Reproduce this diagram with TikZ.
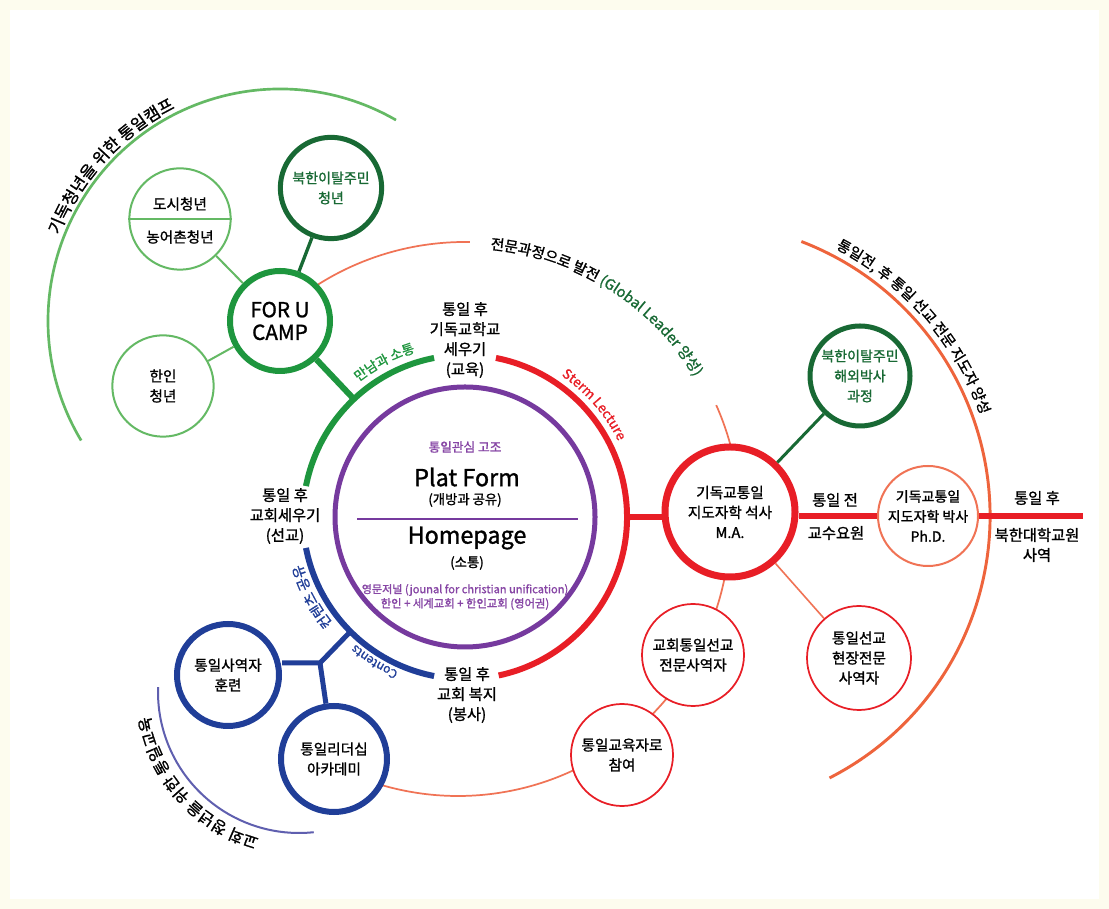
\documentclass[tikz,border=0pt]{standalone}
\usepackage{fontspec}
\setmainfont{Noto Sans CJK KR}[FakeBold=1.3]
\usetikzlibrary{calc,decorations.text}
\definecolor{gr}{RGB}{30,150,62}
\definecolor{dg}{RGB}{24,105,52}
\definecolor{lg}{RGB}{100,185,100}
\definecolor{pu}{RGB}{118,58,158}
\definecolor{ptx}{RGB}{135,70,165}
\definecolor{rd}{RGB}{232,30,38}
\definecolor{orl}{RGB}{240,115,85}
\definecolor{oro}{RGB}{238,100,60}
\definecolor{bl}{RGB}{32,62,152}
\definecolor{blt}{RGB}{95,95,175}
\definecolor{cream}{RGB}{253,252,238}
\begin{document}
\begin{tikzpicture}[x=0.75pt, y=0.75pt,
  circ/.style={circle, fill=white, inner sep=0pt, align=center, font=\fontsize{11}{15}\selectfont},
  lbl/.style={inner sep=0pt, align=center, font=\fontsize{11.5}{15}\selectfont},
  ringline/.style={line width=4.5pt},
  thinline/.style={line width=1.3pt}
]
% background
\fill[cream] (0,0) rectangle (1109,909);
\fill[white] (10,10) rectangle (1099,899);
\useasboundingbox (0,0) rectangle (1109,909);

\coordinate (C) at (465,392);
\coordinate (LC) at (458,385);
\coordinate (OC) at (696,393);
\coordinate (BC) at (299,217);
\coordinate (FC) at (280,588);

% big orange thin arcs (behind nodes)
\draw[orl, thinline] ($(C)+(133:275)$) arc[start angle=133, end angle=89, radius=275*0.75pt];
\draw[orl, thinline] ($(C)+(24:275)$) arc[start angle=24, end angle=12, radius=275*0.75pt];
\draw[orl, thinline] ($(LC)+(-8:272)$) arc[start angle=-8, end angle=-112, radius=272*0.75pt];
% outer arcs
\draw[lg, line width=2pt] ($(FC)+(60:232)$) arc[start angle=60, end angle=211, radius=232*0.75pt];
\draw[oro, line width=2.2pt] ($(OC)+(69:294)$) arc[start angle=69, end angle=-63, radius=294*0.75pt];
\draw[blt, line width=1.5pt] ($(BC)+(178:141)$) arc[start angle=178, end angle=276, radius=141*0.75pt];
% ring arcs
\draw[gr, ringline] ($(C)+(101:162)$) arc[start angle=101, end angle=169, radius=162*0.75pt];
\draw[bl, ringline] ($(C)+(191:162)$) arc[start angle=191, end angle=259, radius=162*0.75pt];
\draw[rd, ringline] ($(C)+(-78:162)$) arc[start angle=-78, end angle=79, radius=162*0.75pt];

% nodes
\node[circle, draw=pu, line width=3.75pt, minimum size=195pt, inner sep=0pt] (plat) at (C) {};
\node[circ, draw=gr, line width=4.5pt, minimum size=75pt, font=\fontsize{15.5}{17}\selectfont] (forU) at (FC) {FOR U\\CAMP};
\node[circ, draw=dg, line width=3.75pt, minimum size=76pt, text=dg, font=\fontsize{10.5}{15}\selectfont] (nky) at (331,721) {북한이탈주민\\청년};
\node[circ, draw=lg, line width=1.5pt, minimum size=76pt] (city) at (180,690) {};
\node[circ, draw=lg, line width=1.5pt, minimum size=76pt] (hanin) at (163,523) {한인\\청년};
\node[circ, draw=rd, line width=5.25pt, minimum size=97.5pt] (ma) at (730,397) {기독교통일\\지도자학 석사\\M.A.};
\node[circ, draw=dg, line width=3.75pt, minimum size=75pt, text=dg, font=\fontsize{10.5}{15}\selectfont] (nkp) at (860,533) {북한이탈주민\\해외박사\\과정};
\node[circ, draw=orl, line width=1.5pt, minimum size=75pt, font=\fontsize{10.5}{15}\selectfont] (phd) at (928,393) {기독교통일\\지도자학 박사\\Ph.D.};
\node[circ, draw=rd, thinline, minimum size=76.5pt] (church) at (693,254) {교회통일선교\\전문사역자};
\node[circ, draw=rd, thinline, minimum size=78pt] (field) at (859,251) {통일선교\\현장전문\\사역자};
\node[circ, draw=rd, thinline, minimum size=76.5pt] (edu) at (622,154) {통일교육자로\\참여};
\node[circ, draw=bl, line width=4.5pt, minimum size=76.5pt] (train) at (228,234) {통일사역자\\훈련};
\node[circ, draw=bl, line width=4.5pt, minimum size=79.5pt] (acad) at (334,150) {통일리더십\\아카데미};

% city split circle
\draw[lg, line width=1.5pt] (city.west) -- (city.east);
\node[lbl, font=\fontsize{11}{15}\selectfont] (cityA) at (180,705) {도시청년};
\node[lbl, font=\fontsize{11}{15}\selectfont] (cityB) at (180,672) {농어촌청년};

% connectors
\coordinate (gA) at ($(C)+(133.3:162)$);
\coordinate (rA) at ($(C)+(0:162)$);
\coordinate (bA) at ($(C)+(225:162)$);
\coordinate (J) at (320,246);
\coordinate (rEnd) at (1083,393);
\draw[gr, line width=4.5pt] (forU) -- (gA);
\draw[dg, line width=2.5pt] (nky) -- (forU);
\draw[lg, line width=1.5pt] (city) -- (forU);
\draw[lg, line width=1.5pt] (hanin) -- (forU);
\draw[rd, line width=4.5pt] (rA) -- (rA -| ma.west);
\draw[rd, line width=4.5pt] (ma.east |- phd.west) -- (phd.west);
\draw[rd, line width=4.5pt] (phd.east) -- (rEnd);
\draw[dg, line width=2.25pt] (nkp) -- (ma);
\draw[orl, line width=1.2pt] (ma) -- (field);
\draw[bl, line width=3.75pt, line join=round] (bA) -- (J) -- (train.east |- J);
\draw[bl, line width=3.75pt, line join=round] (J) -- (acad);

% ring labels
\node[lbl] (tU) at (465,569) {통일 후\\기독교학교\\세우기\\(교육)};
\node[lbl] (tL) at (285,393) {통일 후\\교회세우기\\(선교)};
\node[lbl] (tB) at (467,214) {통일 후\\교회 복지\\(봉사)};
\node[lbl] (pre) at (835,409) {통일 전};
\node[lbl] (prof) at (836,376) {교수요원};
\node[lbl] (post) at (1037,411) {통일 후};
\node[lbl] (nkuni) at (1037,364) {북한대학교원\\사역};

% platform texts
\node[inner sep=0pt, text=ptx, font=\fontsize{9.5}{11}\selectfont] (p1) at (465,462) {통일관심 고조};
\node[inner sep=0pt, font=\fontsize{17.5}{19}\selectfont] (p2) at (467,432) {Plat Form};
\node[inner sep=0pt, font=\fontsize{10}{12}\selectfont] (p3) at (465,409) {(개방과 공유)};
\coordinate (dl) at (357,390);
\coordinate (dr) at (578,390);
\draw[pu, line width=1.2pt] (dl) -- (dr);
\node[inner sep=0pt, font=\fontsize{17.5}{19}\selectfont] (p4) at (467,371) {Homepage};
\node[inner sep=0pt, font=\fontsize{10}{12}\selectfont] (p5) at (467,346) {(소통)};
\node[inner sep=0pt, text=ptx, font=\fontsize{8.3}{10}\selectfont] (p6) at (465,319) {영문저널 (jounal for christian unification)};
\node[inner sep=0pt, text=ptx, font=\fontsize{8.5}{10}\selectfont] (p7) at (465,305) {한인 + 세계교회 + 한인교회 (영어권)};

% texts along arcs
\path[decorate, decoration={text along path, text align=center,
  text={|\fontsize{12.5}{12}\selectfont|기독청년을 위한 통일캠프}}]
  ($(FC)+(175:237)$) arc[start angle=175, end angle=100, radius=237*0.75pt];
\path[decorate, decoration={text along path, text align=center,
  text={|\fontsize{10}{10}\selectfont\color{gr}|만남과 소통}}]
  ($(C)+(140:172)$) arc[start angle=140, end angle=95, radius=172*0.75pt];
\path[decorate, decoration={text along path, text align=center,
  text={|\fontsize{10}{10}\selectfont\color{rd}|Sterm Lecture}}]
  ($(C)+(62:171)$) arc[start angle=62, end angle=20, radius=171*0.75pt];
\path[decorate, decoration={text along path, text align=center,
  text={|\fontsize{11}{11}\selectfont|전문과정으로 발전 |\fontsize{11}{11}\selectfont\color{dg}|(Global Leader 양성)}}]
  ($(C)+(97:269)$) arc[start angle=97, end angle=19, radius=269*0.75pt];
\path[decorate, decoration={text along path, text align=center,
  text={|\fontsize{11}{11}\selectfont|통일전, 후 통일 선교 전문 지도자 양성}}]
  ($(OC)+(72:302)$) arc[start angle=72, end angle=10, radius=302*0.75pt];
\path[decorate, decoration={text along path, text align=center,
  text={|\fontsize{9}{9}\selectfont\color{bl}|Contents}}]
  ($(C)+(256:168)$) arc[start angle=256, end angle=220, radius=168*0.75pt];
\path[decorate, decoration={text along path, text align=center,
  text={|\fontsize{10.5}{10}\selectfont\color{bl}|컨텐츠 공유}}]
  ($(C)+(226:170)$) arc[start angle=226, end angle=189, radius=170*0.75pt];
\path[decorate, decoration={text along path, text align=center,
  text={|\fontsize{12}{11}\selectfont|교회 청년을 위한 통일교육}}]
  ($(BC)+(268:151)$) arc[start angle=268, end angle=176, radius=151*0.75pt];
\end{tikzpicture}
\end{document}
